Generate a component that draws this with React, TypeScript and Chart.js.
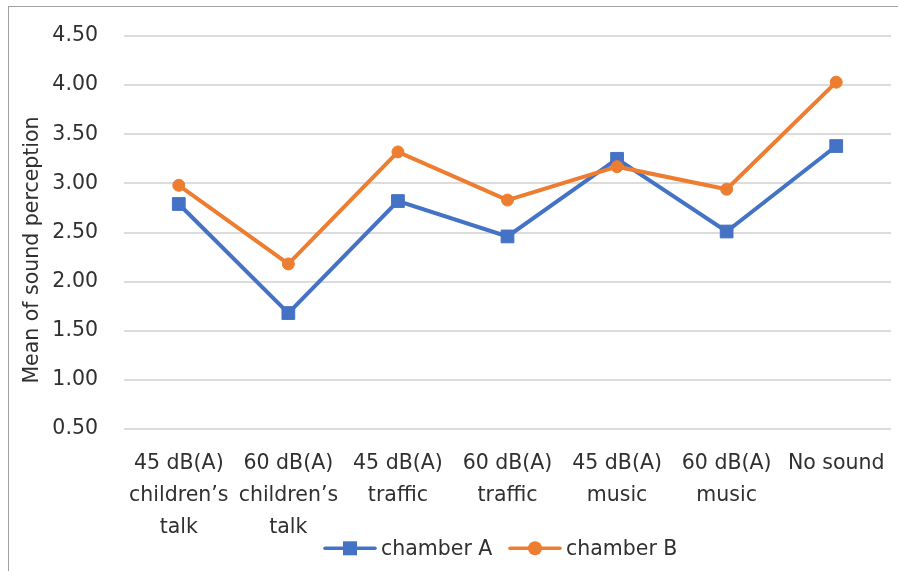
import React, { useEffect, useRef } from "react";
import { Chart, registerables } from "chart.js";

Chart.register(...registerables);

const categories: string[][] = [
  ["45 dB(A)", "children’s", "talk"],
  ["60 dB(A)", "children’s", "talk"],
  ["45 dB(A)", "traffic"],
  ["60 dB(A)", "traffic"],
  ["45 dB(A)", "music"],
  ["60 dB(A)", "music"],
  ["No sound"],
];
const chamberA: number[] = [2.79, 1.68, 2.82, 2.46, 3.25, 2.51, 3.38];
const chamberB: number[] = [2.98, 2.18, 3.32, 2.83, 3.17, 2.94, 4.03];
const seriesNames: string[] = ["chamber A", "chamber B"];
const yTitle = "Mean of sound perception";
const yMin = 0.5;
const yMax = 4.5;
const yStep = 0.5;

const BLUE = "#4472C4";
const ORANGE = "#ED7D31";
const TEXT = "#303030";
const FONT = "DejaVu Sans";
const FS = 20.5;

export default function App() {
  const ref = useRef<HTMLCanvasElement | null>(null);

  useEffect(() => {
    if (!ref.current) return;

    const yTitlePlugin = {
      id: "yTitlePlugin",
      afterDraw(chart: any) {
        const ctx = chart.ctx;
        const area = chart.chartArea;
        ctx.save();
        ctx.translate(24, (area.top + area.bottom) / 2 + 17.5);
        ctx.rotate(-Math.PI / 2);
        ctx.font = `${FS}px "${FONT}"`;
        ctx.fillStyle = TEXT;
        ctx.textAlign = "center";
        ctx.textBaseline = "middle";
        ctx.fillText(yTitle, 0, 0);
        ctx.restore();
      },
    };

    const legendPlugin = {
      id: "lineMarkerLegend",
      afterDraw(chart: any) {
        const ctx = chart.ctx;
        const area = chart.chartArea;
        const center = (area.left + area.right) / 2;
        const lineY = area.bottom + 119.3;
        const textY = area.bottom + 120.5;
        const starts = [center - 184.5, center + 0.5];
        chart.data.datasets.forEach((ds: any, i: number) => {
          const x = starts[i];
          const color = ds.borderColor;
          ctx.save();
          ctx.strokeStyle = color;
          ctx.lineWidth = 3.5;
          ctx.lineCap = "round";
          ctx.beginPath();
          ctx.moveTo(x + 2, lineY);
          ctx.lineTo(x + 52, lineY);
          ctx.stroke();
          ctx.fillStyle = color;
          if (ds.pointStyle === "rect") {
            ctx.fillRect(x + 20, lineY - 7, 14, 14);
          } else {
            ctx.beginPath();
            ctx.arc(x + 27, lineY, 7, 0, Math.PI * 2);
            ctx.fill();
          }
          ctx.font = `${FS}px "${FONT}"`;
          ctx.fillStyle = TEXT;
          ctx.textAlign = "left";
          ctx.textBaseline = "middle";
          ctx.fillText(ds.label, x + 58, textY);
          ctx.restore();
        });
      },
    };

    const chart = new Chart(ref.current, {
      type: "line",
      data: {
        labels: categories,
        datasets: [
          {
            label: seriesNames[0],
            data: chamberA,
            borderColor: BLUE,
            backgroundColor: BLUE,
            borderWidth: 4,
            pointStyle: "rect",
            pointRadius: 9,
            pointBorderWidth: 1,
            pointBackgroundColor: BLUE,
            pointBorderColor: BLUE,
            tension: 0,
            order: 1,
          },
          {
            label: seriesNames[1],
            data: chamberB,
            borderColor: ORANGE,
            backgroundColor: ORANGE,
            borderWidth: 4,
            pointStyle: "circle",
            pointRadius: 6,
            pointBorderWidth: 1,
            pointBackgroundColor: ORANGE,
            pointBorderColor: ORANGE,
            tension: 0,
            order: 0,
          },
        ],
      },
      options: {
        animation: false,
        responsive: true,
        maintainAspectRatio: false,
        layout: { autoPadding: false, padding: { left: 0, right: 7, top: 29, bottom: 27 } },
        scales: {
          x: {
            type: "category",
            offset: true,
            grid: { display: false, drawTicks: false },
            border: { display: false },
            ticks: {
              color: TEXT,
              font: { family: FONT, size: FS, lineHeight: 32 / FS },
              padding: 19,
              maxRotation: 0,
              minRotation: 0,
              autoSkip: false,
            },
            afterFit: (scale: any) => {
              scale.height = 115;
              scale.paddingLeft = 0;
              scale.paddingRight = 0;
            },
          },
          y: {
            min: yMin,
            max: yMax,
            grid: { color: "#dcdcdc", lineWidth: 2, drawTicks: false },
            border: { display: false },
            ticks: {
              stepSize: yStep,
              color: TEXT,
              font: { family: FONT, size: FS },
              padding: 26,
              callback: (v: any) => Number(v).toFixed(2),
            },
            afterFit: (scale: any) => {
              scale.width = 115;
              scale.paddingTop = 0;
              scale.paddingBottom = 0;
            },
          },
        },
        plugins: {
          legend: { display: false },
          tooltip: { enabled: false },
          title: { display: false },
        },
      },
      plugins: [yTitlePlugin, legendPlugin],
    } as any);

    return () => chart.destroy();
  }, []);

  return (
    <div
      style={{
        position: "fixed",
        left: 8,
        top: 6,
        width: 890,
        height: 565,
        boxSizing: "border-box",
        borderTop: "1px solid #a0a0a0",
        borderLeft: "1px solid #a0a0a0",
        background: "#fff",
      }}
    >
      <div style={{ position: "relative", width: 889, height: 564 }}>
        <canvas ref={ref} />
      </div>
    </div>
  );
}
